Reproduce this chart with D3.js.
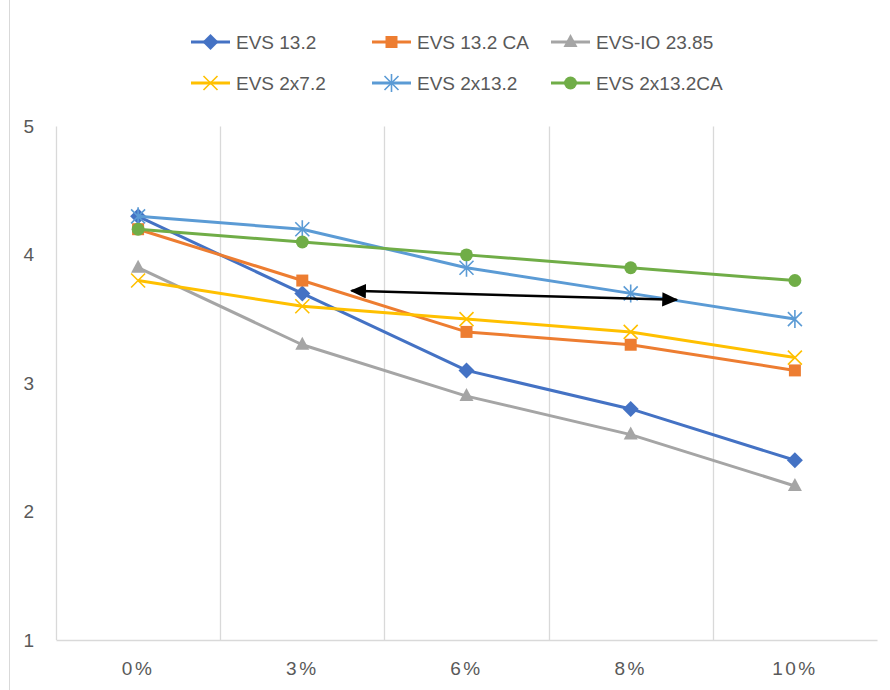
<!DOCTYPE html>
<html>
<head>
<meta charset="utf-8">
<script src="https://cdn.jsdelivr.net/npm/d3@7"></script>
<style>
  body { margin: 0; background: #fff; }
  text { font-family: "Liberation Sans", Arial, sans-serif; fill: #595959; }
</style>
</head>
<body>
<svg id="canvas"></svg>
<script>
// chart data
let categories = ["0%", "3%", "6%", "8%", "10%"];
let seriesNames = ["EVS 13.2", "EVS 13.2 CA", "EVS-IO 23.85", "EVS 2x7.2", "EVS 2x13.2", "EVS 2x13.2CA"];
let evs132 = [4.3, 3.7, 3.1, 2.8, 2.4];
let evs132ca = [4.2, 3.8, 3.4, 3.3, 3.1];
let evsio2385 = [3.9, 3.3, 2.9, 2.6, 2.2];
let evs2x72 = [3.8, 3.6, 3.5, 3.4, 3.2];
let evs2x132 = [4.3, 4.2, 3.9, 3.7, 3.5];
let evs2x132ca = [4.2, 4.1, 4.0, 3.9, 3.8];
let yTicks = [1, 2, 3, 4, 5];
// double arrow annotation: [category index, value]
let arrowFrom = [1.3, 3.72];
let arrowTo = [3.28, 3.65];

let seriesValues = [evs132, evs132ca, evsio2385, evs2x72, evs2x132, evs2x132ca];
let colors = ["#4472C4", "#ED7D31", "#A5A5A5", "#FFC000", "#5B9BD5", "#70AD47"];

// marker shapes drawn as paths centered at 0,0
let markerPath = (i) => {
    if (i === 0) return "M0,-8 L8,0 L0,8 L-8,0 Z";               // diamond
    if (i === 1) return "M-6,-6 L6,-6 L6,6 L-6,6 Z";             // square
    if (i === 2) return "M0,-8 L7,5 L-7,5 Z";                    // triangle
    if (i === 3) return "M-7,-7 L7,7 M-7,7 L7,-7";               // x
    if (i === 4) return "M-7,-7 L7,7 M-7,7 L7,-7 M0,-9 L0,9";    // asterisk
    return d3.symbol().type(d3.symbolCircle).size(130)();        // circle
};
let strokedMarker = (i) => i === 3 || i === 4;

let width = 890;
let height = 690;
let margin = {left: 56, right: 13, top: 126.5, bottom: 50};

let canvas = d3.select("#canvas")
canvas.attr("width", width)
canvas.attr("height", height)

// chart area border
canvas.append("line")
    .attr("x1", 9.5).attr("x2", 9.5)
    .attr("y1", 0).attr("y2", height)
    .attr("stroke", "#D9D9D9");

let xScale = d3.scaleBand()
    .domain(categories)
    .range([margin.left, width - margin.right]);

let yScale = d3.scaleLinear()
    .domain([1, 5])
    .range([height - margin.bottom, margin.top]);

// index scale for the annotation arrow (category centers)
let xIndex = d3.scaleLinear()
    .domain([0, categories.length - 1])
    .range([xScale(categories[0]) + xScale.bandwidth() / 2,
            xScale(categories[categories.length - 1]) + xScale.bandwidth() / 2]);

// vertical gridlines between categories
canvas.append("g")
    .selectAll("line")
    .data(categories)
    .enter()
    .append("line")
    .attr("x1", (d) => Math.round(xScale(d)) + 0.5)
    .attr("x2", (d) => Math.round(xScale(d)) + 0.5)
    .attr("y1", yScale(5))
    .attr("y2", yScale(1))
    .attr("stroke", "#D9D9D9")
    .attr("stroke-width", 1.3);

// x axis
let xAxis = d3.axisBottom(xScale).tickSize(0).tickPadding(22);
let gx = canvas.append("g")
    .attr("transform", "translate(0," + yScale(1) + ")")
    .call(xAxis);
gx.select(".domain").attr("stroke", "#D9D9D9").attr("stroke-width", 1.3);
gx.selectAll("text")
    .style("font-size", "19px")
    .style("letter-spacing", "2.5px")
    .attr("fill", "#595959");

// y axis
let yAxis = d3.axisLeft(yScale).tickValues(yTicks).tickFormat(d3.format("d")).tickSize(0).tickPadding(22);
let gy = canvas.append("g")
    .attr("transform", "translate(" + margin.left + ",0)")
    .call(yAxis);
gy.select(".domain").remove();
gy.selectAll("text")
    .style("font-size", "19px")
    .attr("fill", "#595959");

// series lines and markers
let line = d3.line()
    .x((d, i) => xScale(categories[i]) + xScale.bandwidth() / 2)
    .y((d) => yScale(d));

seriesValues.forEach((values, s) => {
    let g = canvas.append("g");
    g.append("path")
        .datum(values)
        .attr("d", line)
        .attr("fill", "none")
        .attr("stroke", colors[s])
        .attr("stroke-width", 3)
        .attr("stroke-linejoin", "round");
    g.selectAll("path.mark")
        .data(values)
        .enter()
        .append("path")
        .attr("class", "mark")
        .attr("d", markerPath(s))
        .attr("transform", (d, i) => "translate(" + (xScale(categories[i]) + xScale.bandwidth() / 2) + "," + yScale(d) + ")")
        .attr("fill", strokedMarker(s) ? "none" : colors[s])
        .attr("stroke", strokedMarker(s) ? colors[s] : "none")
        .attr("stroke-width", 1.6);
});

// arrow annotation
let defs = canvas.append("defs");
defs.append("marker")
    .attr("id", "arrowhead")
    .attr("viewBox", "0 0 10 9")
    .attr("refX", 9).attr("refY", 4.5)
    .attr("markerWidth", 6.4).attr("markerHeight", 5.8)
    .attr("markerUnits", "strokeWidth")
    .attr("orient", "auto-start-reverse")
    .append("path")
    .attr("d", "M0,0 L10,4.5 L0,9 Z")
    .attr("fill", "#000");

canvas.append("line")
    .attr("x1", xIndex(arrowFrom[0])).attr("y1", yScale(arrowFrom[1]))
    .attr("x2", xIndex(arrowTo[0])).attr("y2", yScale(arrowTo[1]))
    .attr("stroke", "#000")
    .attr("stroke-width", 2.5)
    .attr("marker-start", "url(#arrowhead)")
    .attr("marker-end", "url(#arrowhead)");

// legend
let legendX = [191, 372, 551];
let legendY = [42, 83];
let legend = canvas.append("g")
    .selectAll("g")
    .data(seriesNames)
    .enter()
    .append("g")
    .attr("transform", (d, i) => "translate(" + legendX[i % 3] + "," + legendY[Math.floor(i / 3)] + ")");

legend.append("line")
    .attr("x1", 0).attr("x2", 39)
    .attr("y1", 0).attr("y2", 0)
    .attr("stroke", (d, i) => colors[i])
    .attr("stroke-width", 3);

legend.append("path")
    .attr("d", (d, i) => markerPath(i))
    .attr("transform", "translate(19.5,0)")
    .attr("fill", (d, i) => strokedMarker(i) ? "none" : colors[i])
    .attr("stroke", (d, i) => strokedMarker(i) ? colors[i] : "none")
    .attr("stroke-width", 1.6);

legend.append("text")
    .attr("x", 45)
    .attr("y", 0)
    .attr("dy", "0.35em")
    .style("font-size", "19px")
    .text((d) => d);
</script>
</body>
</html>
